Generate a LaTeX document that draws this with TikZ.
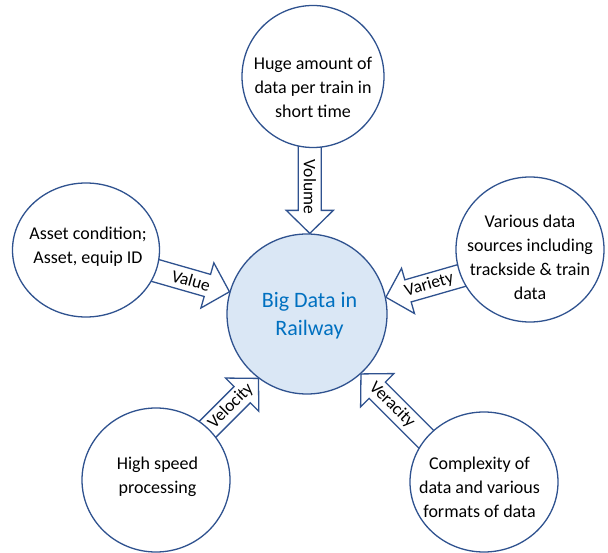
\documentclass[tikz,border=0pt]{standalone}
\usepackage{fontspec}
\setmainfont{Carlito}
\usetikzlibrary{calc,backgrounds,shapes.geometric}
\definecolor{edgeblue}{HTML}{2F528F}
\definecolor{hubfill}{HTML}{DAE7F5}
\definecolor{hubtext}{HTML}{0070C0}
\tikzset{
  bubble/.style={ellipse, draw=edgeblue, line width=1.3pt, fill=white, inner sep=0pt},
  hub/.style={circle, draw=edgeblue, line width=1.3pt, fill=hubfill, minimum size=160pt, inner sep=0pt},
  bubbletext/.style={align=center, font=\fontsize{18}{24}\selectfont, text=black, inner sep=0pt},
  hubtxt/.style={align=center, font=\fontsize{22}{28}\selectfont, text=hubtext, inner sep=0pt},
  arrowbody/.style={draw=edgeblue, line width=1.3pt, fill=white, line join=miter},
  arrowlabel/.style={sloped, font=\fontsize{17.5}{20}\selectfont, inner sep=0pt},
}
\newcommand{\blockarr}[4]{%
  \coordinate (#1hb) at ($(#2)!23pt!(#1)$);
  \draw[arrowbody] ($(#1)!11.5pt!90:(#2)$) -- ($(#1hb)!11.5pt!90:(#2)$)
    -- ($(#1hb)!23.5pt!90:(#2)$) -- (#2) -- ($(#1hb)!23.5pt!-90:(#2)$)
    -- ($(#1hb)!11.5pt!-90:(#2)$) -- ($(#1)!11.5pt!-90:(#2)$) -- cycle;
  \path (#1) -- (#2) node[arrowlabel, pos=#4] (#1lab) {#3};
}
\begin{document}
\begin{tikzpicture}[x=1pt,y=1pt]
\useasboundingbox (0,0) rectangle (608,-553);
% circles
\node[hub] (C) at (307,-314) {};
\node[bubble, minimum width=142pt, minimum height=142pt] (V) at (313,-76.5) {};
\node[bubble, minimum width=147pt, minimum height=134pt] (L) at (86,-250) {};
\node[bubble, minimum width=148pt, minimum height=145pt] (R) at (530,-249.5) {};
\node[bubble, minimum width=148pt, minimum height=144pt] (BL) at (156,-480) {};
\node[bubble, minimum width=148pt, minimum height=140pt] (BR) at (484,-482) {};
% arrow end points
\coordinate (tipV) at (C.88);
\coordinate (tailV) at ($(tipV)+(0,100)$);
\coordinate (tipL) at (C.164);
\coordinate (tailL) at ($(tipL)+(164:100)$);
\coordinate (tipR) at (C.12);
\coordinate (tailR) at ($(tipR)+(16:100)$);
\coordinate (tipBL) at (C.233);
\coordinate (tailBL) at ($(tipBL)+(225:100)$);
\coordinate (tipBR) at (C.312);
\coordinate (tailBR) at ($(tipBR)+(-45:100)$);
\begin{scope}[on background layer]
  \blockarr{tailV}{tipV}{Volume}{0.535}
  \blockarr{tailL}{tipL}{Value}{0.60}
  \blockarr{tailR}{tipR}{Variety}{0.55}
  \blockarr{tailBL}{tipBL}{Velocity}{0.61}
  \blockarr{tailBR}{tipBR}{Veracity}{0.56}
\end{scope}
% texts
\node[hubtxt] (Ct) at (309.5,-316) {Big Data in\\Railway};
\node[bubbletext] (Vt) at (313,-87.5) {Huge amount of\\data per train in\\short time};
\node[bubbletext] (Lt) at (88,-246.5) {Asset condition;\\Asset, equip ID};
\node[bubbletext] (Rt) at (530,-257.5) {Various data\\sources including\\trackside \& train\\data};
\node[bubbletext] (BLt) at (157.5,-477) {High speed\\processing};
\node[bubbletext] (BRt) at (479.5,-487.5) {Complexity of\\data and various\\formats of data};
\end{tikzpicture}
\end{document}
